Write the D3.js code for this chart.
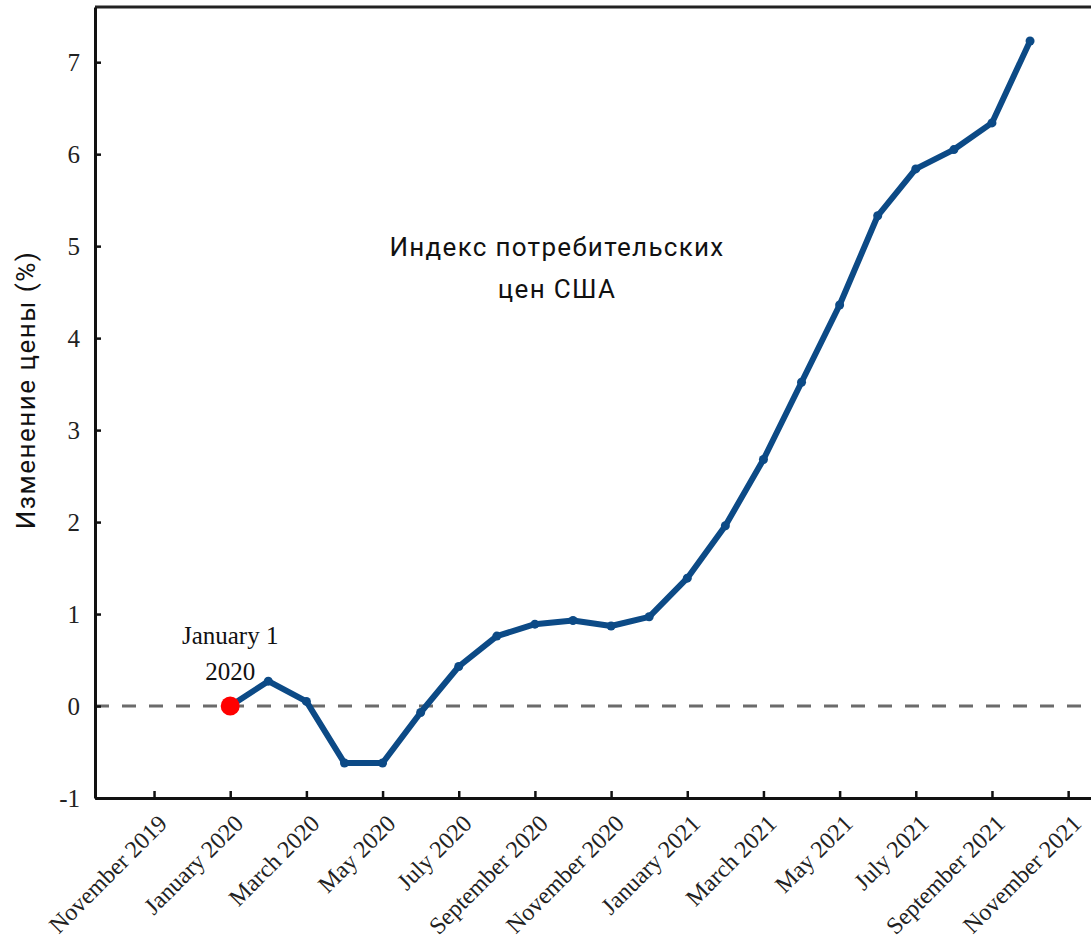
<!DOCTYPE html>
<html>
<head>
<meta charset="utf-8">
<script src="https://cdn.jsdelivr.net/npm/d3@7"></script>
<style>
  body { margin: 0; background: #fff; }
  svg { display: block; }
</style>
</head>
<body>
<div id="chart"></div>
<script>
// months counted from January 2020 (= 0)
var months = [0, 1, 2, 3, 4, 5, 6, 7, 8, 9, 10, 11, 12, 13, 14, 15, 16, 17, 18, 19, 20, 21];
var cpiChange = [0, 0.27, 0.05, -0.62, -0.62, -0.07, 0.43, 0.76, 0.89, 0.93, 0.87, 0.97,
                 1.39, 1.96, 2.68, 3.52, 4.36, 5.33, 5.84, 6.05, 6.34, 7.23];
var tickMonths = [-2, 0, 2, 4, 6, 8, 10, 12, 14, 16, 18, 20, 22];
var tickLabels = ["November 2019", "January 2020", "March 2020", "May 2020", "July 2020",
                  "September 2020", "November 2020", "January 2021", "March 2021", "May 2021",
                  "July 2021", "September 2021", "November 2021"];
var yTicks = [-1, 0, 1, 2, 3, 4, 5, 6, 7];

var W = 1091, H = 941;
var plotLeft = 95, plotRight = 1091, plotTop = 7, plotBottom = 798;

var svg = d3.select("#chart").append("svg")
    .attr("width", W)
    .attr("height", H);

var x = d3.scaleLinear().domain([-3.55, 22.6]).range([plotLeft, plotRight]);
var y = d3.scaleLinear().domain([-1, 7.6]).range([plotBottom, plotTop]);

var serif = "'Liberation Serif', 'Times New Roman', serif";
var sans = "Roboto, 'Noto Sans', sans-serif";

// top frame line
svg.append("line")
    .attr("x1", plotLeft).attr("x2", plotRight)
    .attr("y1", plotTop).attr("y2", plotTop)
    .attr("stroke", "#222").attr("stroke-width", 3);

// zero reference line
svg.append("line")
    .attr("x1", plotLeft).attr("x2", plotRight)
    .attr("y1", y(0)).attr("y2", y(0))
    .attr("stroke", "#6b6b6b").attr("stroke-width", 3)
    .attr("stroke-dasharray", "14,13");

// y axis
var yAxis = svg.append("g")
    .attr("transform", "translate(" + plotLeft + ",0)")
    .call(d3.axisLeft(y).tickValues(yTicks).tickSize(-6).tickPadding(15).tickSizeOuter(0)
        .tickFormat(function (d) { return String(d); }));
yAxis.select(".domain").attr("stroke", "#111").attr("stroke-width", 3);
yAxis.selectAll(".tick line").attr("stroke", "#111").attr("stroke-width", 2.5);
yAxis.selectAll(".tick text")
    .style("font-family", serif)
    .style("font-size", "25px")
    .attr("fill", "#222");

// x axis
var xAxis = svg.append("g")
    .attr("transform", "translate(0," + plotBottom + ")")
    .call(d3.axisBottom(x).tickValues(tickMonths).tickSize(-7).tickSizeOuter(0)
        .tickFormat(function (d, i) { return tickLabels[i]; }));
xAxis.select(".domain").attr("stroke", "#111").attr("stroke-width", 3);
xAxis.selectAll(".tick line").attr("stroke", "#111").attr("stroke-width", 2.5);
xAxis.selectAll(".tick text")
    .style("font-family", serif)
    .style("font-size", "24px")
    .attr("fill", "#222")
    .attr("text-anchor", "end")
    .attr("x", 0).attr("y", 0).attr("dy", 0)
    .attr("transform", "translate(14,27) rotate(-45)");

// y axis title
svg.append("text")
    .attr("transform", "translate(35,390) rotate(-90)")
    .attr("text-anchor", "middle")
    .style("font-family", sans)
    .style("font-size", "26px")
    .style("letter-spacing", "1.5px")
    .attr("fill", "#111")
    .text("Изменение цены (%)");

// chart caption
var caption = svg.append("text")
    .attr("text-anchor", "middle")
    .style("font-family", sans)
    .style("font-size", "26px")
    .style("letter-spacing", "1.3px")
    .attr("fill", "#111");
caption.append("tspan").attr("x", 557).attr("y", 256).text("Индекс потребительских");
caption.append("tspan").attr("x", 557).attr("y", 298).text("цен США");

// line
var line = d3.line()
    .x(function (d, i) { return x(months[i]); })
    .y(function (d) { return y(d); });

svg.append("path")
    .datum(cpiChange)
    .attr("fill", "none")
    .attr("stroke", "#0c4a86")
    .attr("stroke-width", 6)
    .attr("stroke-linejoin", "round")
    .attr("d", line);

svg.selectAll(".pt")
    .data(cpiChange)
    .enter().append("circle")
    .attr("class", "pt")
    .attr("cx", function (d, i) { return x(months[i]); })
    .attr("cy", function (d) { return y(d); })
    .attr("r", 4.5)
    .attr("fill", "#0c4a86");

// start point
svg.append("circle")
    .attr("cx", x(months[0]))
    .attr("cy", y(cpiChange[0]))
    .attr("r", 9.5)
    .attr("fill", "#ff0000");

var note = svg.append("text")
    .attr("text-anchor", "middle")
    .style("font-family", serif)
    .style("font-size", "25px")
    .attr("fill", "#111");
note.append("tspan").attr("x", x(0)).attr("y", 644).text("January 1");
note.append("tspan").attr("x", x(0)).attr("y", 680).text("2020");
</script>
</body>
</html>
